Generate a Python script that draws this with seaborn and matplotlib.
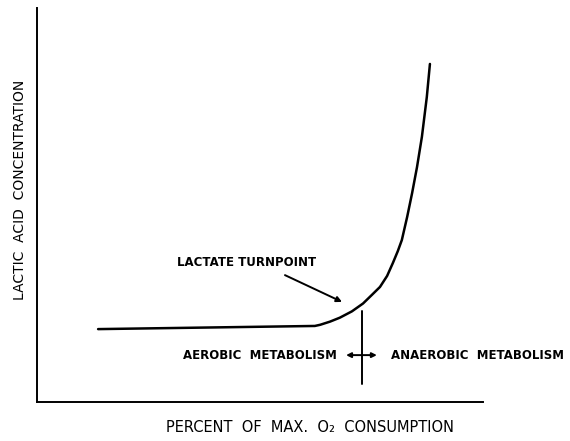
import matplotlib
matplotlib.use("Agg")
import matplotlib.pyplot as plt
import seaborn as sns
import pandas as pd

# curve (percent of max O2 vs lactic acid, arbitrary units)
pct_o2 = [13.7, 62.3, 63.5, 65.7, 67.9, 70.6, 73.1, 75.1, 76.9, 78.5,
          79.8, 80.9, 81.8, 83.0, 84.1, 85.2, 86.3, 87.4, 88.1]
lactate = [1.85, 1.93, 1.96, 2.04, 2.14, 2.30, 2.50, 2.72, 2.92, 3.20,
           3.53, 3.83, 4.11, 4.70, 5.30, 5.96, 6.73, 7.74, 8.58]

turnpoint_x = 72.9
turnpoint_label = "LACTATE TURNPOINT"
aerobic_label = "AEROBIC  METABOLISM"
anaerobic_label = "ANAEROBIC  METABOLISM"
x_label = "PERCENT  OF  MAX.  O\u2082  CONSUMPTION"
y_label = "LACTIC  ACID  CONCENTRATION"

sns.set_style("white")
plt.rcParams['font.family'] = ['DejaVu Sans']
plt.rcParams['text.color'] = 'black'

df = pd.DataFrame({'pct': pct_o2, 'lactate': lactate})

fig = plt.figure(figsize=(5.7, 4.41), dpi=100)
ax = fig.add_axes([37 / 570, 39 / 441, 446 / 570, 394 / 441])

sns.lineplot(data=df, x='pct', y='lactate', ax=ax, color='black', linewidth=1.8)

ax.set_xlim(0, 100)
ax.set_ylim(0, 10)
ax.set_xticks([])
ax.set_yticks([])
ax.set_xlabel('')
ax.set_ylabel('')
for side in ['top', 'right']:
    ax.spines[side].set_visible(False)
for side in ['left', 'bottom']:
    ax.spines[side].set_color('black')
    ax.spines[side].set_linewidth(1.4)

# turnpoint marker and arrow
ax.plot([turnpoint_x, turnpoint_x], [0.46, 2.31], color='black', linewidth=1.4)
ax.annotate('', xy=(68.4, 2.54), xytext=(55.6, 3.22),
            arrowprops=dict(arrowstyle='-|>', color='black', lw=1.4,
                            mutation_scale=8, shrinkA=0, shrinkB=0))
ax.text(46.9, 3.55, turnpoint_label, ha='center', va='center',
        fontsize=8.5, fontweight='bold', color='black')

ax.annotate('', xy=(76.2, 1.19), xytext=(69.3, 1.19),
            arrowprops=dict(arrowstyle='<|-|>', color='black', lw=1.4,
                            mutation_scale=7, shrinkA=0, shrinkB=0))
ax.text(67.3, 1.19, aerobic_label, ha='right', va='center',
        fontsize=8.5, fontweight='bold', color='black')
ax.text(79.4, 1.19, anaerobic_label, ha='left', va='center',
        fontsize=8.5, fontweight='bold', color='black', clip_on=False)

fig.text(310 / 570, 1 - 427 / 441, x_label, ha='center', va='center',
         fontsize=10.5, fontweight='medium', color='black')
fig.text(20 / 570, 1 - 190 / 441, y_label, ha='center', va='center',
         rotation=90, fontsize=10, fontweight='medium', color='black')

fig.savefig('out.png', dpi=100)
